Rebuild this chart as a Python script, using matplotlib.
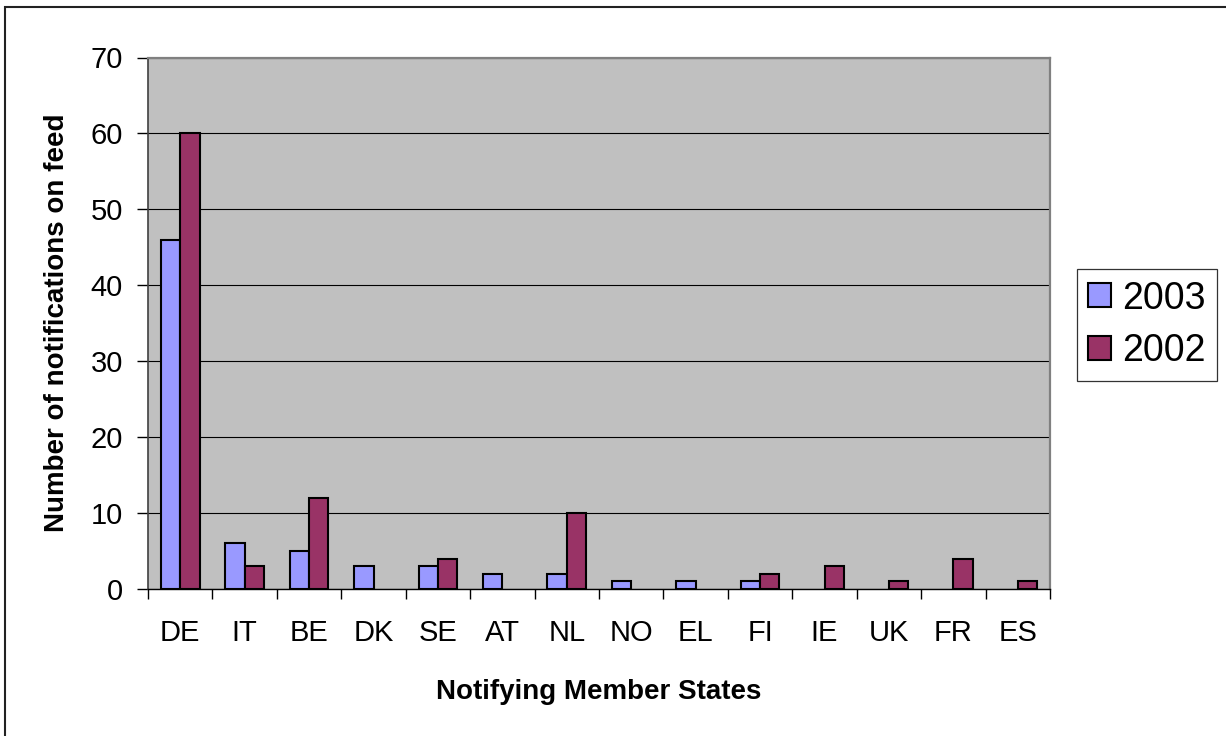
import matplotlib.pyplot as plt
import numpy as np
from matplotlib.patches import Rectangle

plt.rcParams['font.family'] = ['Liberation Sans', 'DejaVu Sans']

states = ['DE', 'IT', 'BE', 'DK', 'SE', 'AT', 'NL', 'NO', 'EL', 'FI', 'IE', 'UK', 'FR', 'ES']
counts_2003 = [46, 6, 5, 3, 3, 2, 2, 1, 1, 1, 0, 0, 0, 0]
counts_2002 = [60, 3, 12, 0, 4, 0, 10, 0, 0, 2, 3, 1, 4, 1]

fig = plt.figure(figsize=(12.26, 7.36), dpi=100)
ax = fig.add_axes([148 / 1226, 1 - 589 / 736, (1050 - 148) / 1226, (589 - 57.5) / 736])
ax.set_facecolor('#C0C0C0')

x = np.arange(len(states))
w = 0.30
b1 = ax.bar(x - w / 2, counts_2003, w, color='#9999FF', edgecolor='black', linewidth=1.5,
            label='2003', zorder=3)
b2 = ax.bar(x + w / 2, counts_2002, w, color='#993366', edgecolor='black', linewidth=1.5,
            label='2002', zorder=3)
# empty values are not drawn at all
for bars in (b1, b2):
    for r in bars:
        if r.get_height() == 0:
            r.set_visible(False)

ax.set_xlim(-0.5, len(states) - 0.5)
ax.set_ylim(0, 70)
ax.set_yticks(range(0, 71, 10))
ax.yaxis.grid(True, color='black', linewidth=0.8, zorder=1)
ax.set_axisbelow(True)

# ticks between categories, labels at centres
ax.set_xticks(np.arange(-0.5, len(states), 1.0))
ax.set_xticklabels([])
ax.set_xticks(x, minor=True)
ax.set_xticklabels(states, minor=True)
ax.tick_params(axis='x', which='major', length=7, width=1, color='black')
ax.tick_params(axis='x', which='minor', length=0, pad=21.5, labelsize=21)
ax.tick_params(axis='y', length=8, width=1, pad=10, labelsize=21)

for side in ['top', 'right']:
    ax.spines[side].set_color('#808080')
    ax.spines[side].set_linewidth(1.6)
ax.spines['left'].set_color('#404040')
ax.spines['left'].set_linewidth(1.2)
ax.spines['bottom'].set_color('black')
ax.spines['bottom'].set_linewidth(1)

ax.set_xlabel('Notifying Member States', fontsize=20, fontweight='bold', labelpad=23)
ax.set_ylabel('Number of notifications on feed', fontsize=20, fontweight='bold', labelpad=15)

leg = fig.legend(handles=[b1, b2], loc='center left', bbox_to_anchor=(1077 / 1226, 1 - 325 / 736),
                 fontsize=27, frameon=True, fancybox=False, edgecolor='black', borderpad=0.3,
                 handlelength=0.6, handleheight=0.6, handletextpad=0.3, labelspacing=0.45,
                 borderaxespad=0)
leg.get_frame().set_linewidth(0.9)

# outer chart border (left and top visible)
fig.add_artist(Rectangle((5.5 / 1226, -0.1), 1.2, 1.1 - 7 / 736, transform=fig.transFigure,
                         fill=False, edgecolor='#222222', linewidth=1.5))

fig.savefig('out.png', dpi=100)
